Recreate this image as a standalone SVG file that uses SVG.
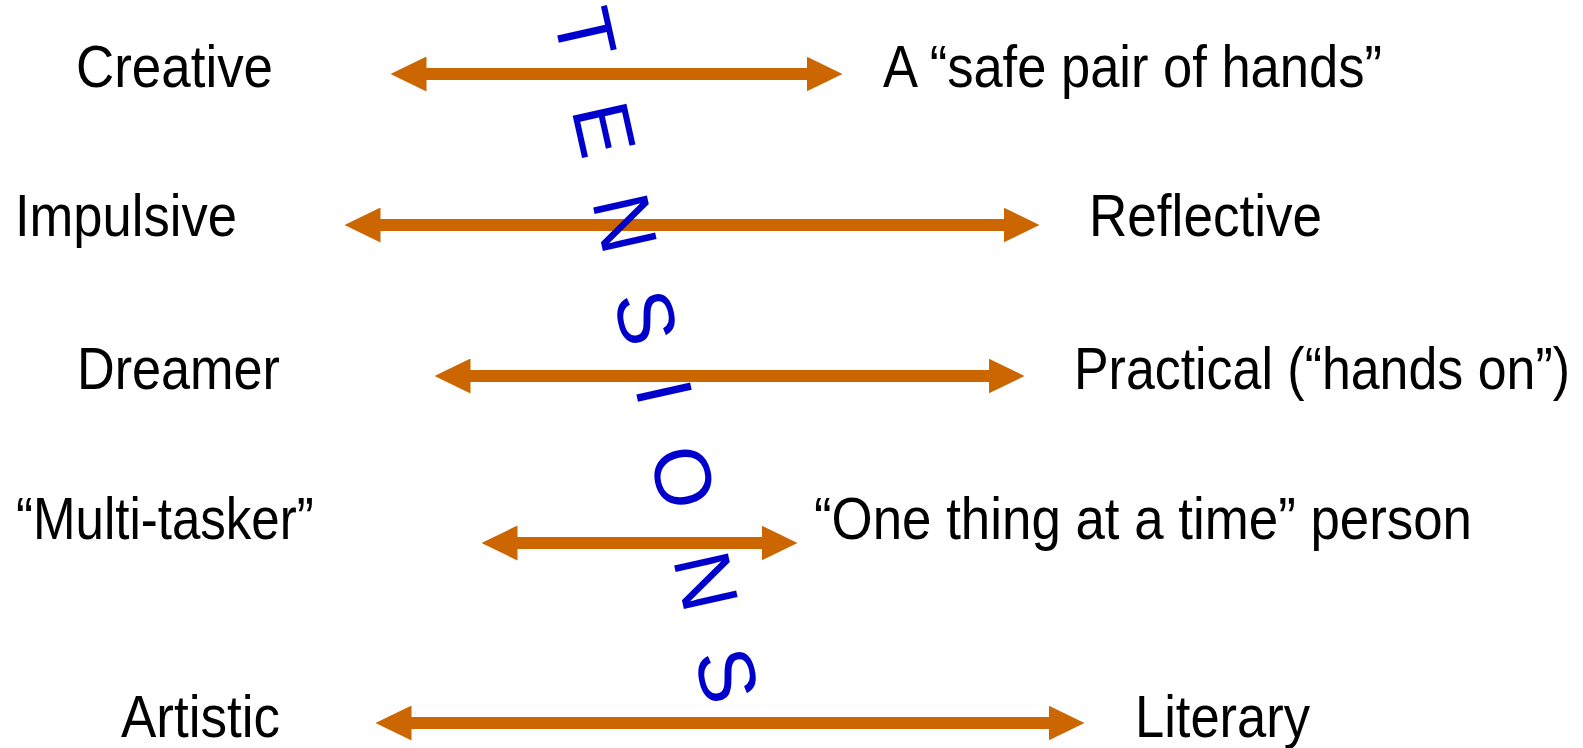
<svg xmlns="http://www.w3.org/2000/svg" width="1583" height="748" viewBox="0 0 1583 748">
  <style>
    .label { font-family: "Liberation Sans", Arial, sans-serif; font-size: 60px; fill: #000000; }
    .tension { font-family: "Liberation Sans", Arial, sans-serif; font-size: 80px; fill: #0000CC; text-anchor: middle; }
    .axis { stroke: #CC6600; stroke-width: 12; fill: none; marker-start: url(#head); marker-end: url(#head); }
  </style>
  <defs>
    <marker id="head" viewBox="0 0 36 35" markerWidth="36" markerHeight="35" markerUnits="userSpaceOnUse" refX="0.5" refY="17.5" orient="auto-start-reverse">
      <path d="M0,0 L36,17.5 L0,35 Z" fill="#CC6600"/>
    </marker>
  </defs>

  <rect width="1583" height="748" fill="#FFFFFF"/>

  <!-- double-headed connectors between each pair of opposites -->
  <g id="connectors">
    <line class="axis" x1="426" y1="74" x2="807" y2="74"/>
    <line class="axis" x1="380" y1="225" x2="1004" y2="225"/>
    <line class="axis" x1="470" y1="376" x2="989" y2="376"/>
    <line class="axis" x1="517" y1="543" x2="762" y2="543"/>
    <line class="axis" x1="411" y1="723" x2="1049" y2="723"/>
  </g>

  <!-- left-hand traits (labels narrowed horizontally) -->
  <g id="creative"><text class="label" transform="translate(76,87) scale(0.882,1)">Creative</text></g>
  <g id="impulsive"><text class="label" transform="translate(15,236) scale(0.876,1)">Impulsive</text></g>
  <g id="dreamer"><text class="label" transform="translate(77,389) scale(0.870,1)">Dreamer</text></g>
  <g id="multi-tasker"><text class="label" transform="translate(16,539) scale(0.851,1)">“Multi-tasker”</text></g>
  <g id="artistic"><text class="label" transform="translate(121,737) scale(0.883,1)">Artistic</text></g>

  <!-- right-hand traits -->
  <g id="safe-pair"><text class="label" transform="translate(883,87) scale(0.875,1)">A “safe pair of hands”</text></g>
  <g id="reflective"><text class="label" transform="translate(1089,236) scale(0.885,1)">Reflective</text></g>
  <g id="practical"><text class="label" transform="translate(1074,389) scale(0.865,1)">Practical (“hands on”)</text></g>
  <g id="one-thing"><text class="label" transform="translate(814,539) scale(0.881,1)">“One thing at a time” person</text></g>
  <g id="literary"><text class="label" transform="translate(1135,737) scale(0.875,1)">Literary</text></g>

  <!-- TENSIONS running down across the connectors, letters turned on their side -->
  <g id="tensions">
    <text class="tension" transform="translate(586,33) rotate(77.5)" y="28.6">T</text>
    <text class="tension" transform="translate(605,129) rotate(77.5)" y="28.6">E</text>
    <text class="tension" transform="translate(626,223) rotate(77.5)" y="28.6">N</text>
    <text class="tension" transform="translate(647,317) rotate(77.5)" y="28.6">S</text>
    <text class="tension" transform="translate(665,392) rotate(77.5)" y="28.6">I</text>
    <text class="tension" transform="translate(684,477) rotate(77.5)" y="28.6">O</text>
    <text class="tension" transform="translate(707,581) rotate(77.5)" y="28.6">N</text>
    <text class="tension" transform="translate(728,675) rotate(77.5)" y="28.6">S</text>
  </g>
</svg>
